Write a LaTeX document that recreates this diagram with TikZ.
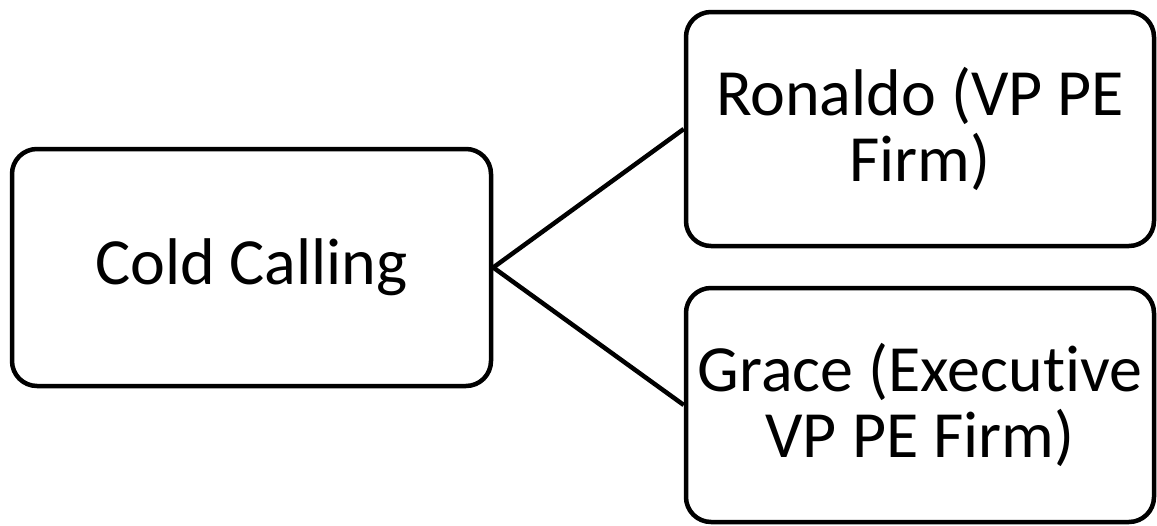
\documentclass[tikz,border=0pt]{standalone}
\usepackage{fontspec}
\setmainfont[Ligatures=NoCommon]{Carlito}
\usepackage{tikz}
\usetikzlibrary{positioning}

\begin{document}
\begin{tikzpicture}[
        x=1pt, y=-1pt,
        every node/.style={draw, rounded corners=25pt, line width=4.5pt, inner sep=0pt, align=center,
                           font=\fontsize{66}{66}\selectfont},
        every path/.style={line width=4.5pt}
        ]
        \useasboundingbox (0,0) rectangle (1157,525);

        % Nodes
        \node[minimum width=479pt, minimum height=237pt] (cold) at (251.5,267.5) {Cold Calling};
        \node[minimum width=468pt, minimum height=234pt] (ronaldo) at (920,129) {Ronaldo (VP PE\\Firm)};
        \node[minimum width=468pt, minimum height=234pt] (grace) at (920,405) {Grace (Executive\\VP PE Firm)};

        % Lines
        \draw (cold.east) -- (ronaldo.west);
        \draw (cold.east) -- (grace.west);

        \end{tikzpicture}
\end{document}
